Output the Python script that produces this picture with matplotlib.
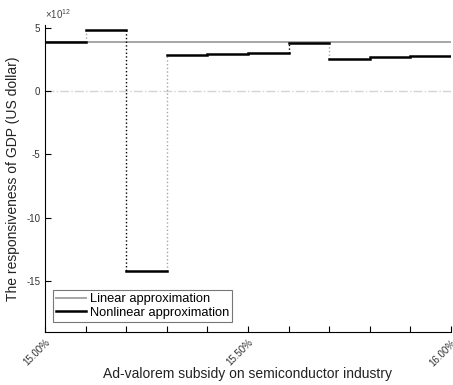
import numpy as np
import matplotlib
matplotlib.use("Agg")
import matplotlib.pyplot as plt
from matplotlib.ticker import FuncFormatter

# subsidy grid (percent) and the step values (US dollar)
subsidy_edges = [15.0, 15.1, 15.2, 15.3, 15.4, 15.5, 15.6, 15.7, 15.8, 15.9, 16.0]
nonlinear_vals = [3.88e12, 4.80e12, -14.2e12, 2.83e12, 2.90e12, 3.02e12,
                  3.76e12, 2.52e12, 2.65e12, 2.76e12]
linear_val = 3.88e12
tick_labels = {15.0: "15.00%", 15.5: "15.50%", 16.0: "16.00%"}
y_ticks = [-15e12, -10e12, -5e12, 0, 5e12]
scale = 1e12

plt.rcParams['font.family'] = ['Liberation Sans', 'DejaVu Sans']
plt.rcParams['mathtext.fontset'] = 'custom'
plt.rcParams['mathtext.rm'] = 'Liberation Sans'
plt.rcParams['axes.unicode_minus'] = False

fig = plt.figure(figsize=(4.53, 3.85), dpi=100)
ax = fig.add_axes([0.0993, 0.1377, 0.896, 0.797])

gray = "#a6a6a6"

# zero reference line
ax.axhline(0, color="#d4d4d4", linestyle="-.", linewidth=1.0, zorder=1)

# linear approximation
ax.plot([subsidy_edges[0], subsidy_edges[-1]], [linear_val, linear_val],
        color=gray, linewidth=1.4, zorder=2, label="Linear approximation")

# nonlinear steps
for i, v in enumerate(nonlinear_vals):
    ax.plot([subsidy_edges[i], subsidy_edges[i + 1]], [v, v], color="black",
            linewidth=1.8, zorder=3,
            label="Nonlinear approximation" if i == 0 else None)
    # dotted connector to the next step, alternating colours
    if i + 1 < len(nonlinear_vals):
        c = gray if i % 2 == 0 else "black"
        ax.plot([subsidy_edges[i + 1], subsidy_edges[i + 1]],
                [v, nonlinear_vals[i + 1]], color=c, linestyle=":",
                linewidth=1.0, zorder=2)

ax.set_xlim(15.0, 16.0)
ax.set_ylim(-19e12, 5.2e12)

ax.set_xticks(subsidy_edges)
ax.set_xticklabels([tick_labels.get(round(x, 2), "") for x in subsidy_edges],
                   rotation=45, ha="right", rotation_mode="anchor", fontsize=6.5)

ax.set_yticks(y_ticks)
ax.yaxis.set_major_formatter(FuncFormatter(lambda v, p: "%g" % (v / scale)))
ax.text(0.0, 1.012, r"$\times$10$^{12}$", transform=ax.transAxes,
        fontsize=7, color="#444444", ha="left", va="bottom")
ax.tick_params(axis="both", direction="in", length=4, width=0.8,
               labelsize=7, labelcolor="#333333")
ax.tick_params(axis="x", pad=4)

for s in ["top", "right"]:
    ax.spines[s].set_visible(False)
for s in ["left", "bottom"]:
    ax.spines[s].set_linewidth(0.8)

ax.set_xlabel("Ad-valorem subsidy on semiconductor industry", fontsize=10,
              color="#222222")
ax.set_ylabel("The responsiveness of GDP (US dollar)", fontsize=10,
              color="#222222")
ax.xaxis.set_label_coords(0.5, -0.115)
ax.yaxis.set_label_coords(-0.062, 0.5)

leg = ax.legend(loc="lower left", bbox_to_anchor=(0.01, 0.02), fontsize=9.3,
                frameon=True, fancybox=False, handlelength=2.3,
                handletextpad=0.3, borderpad=0.25, labelspacing=0.1,
                borderaxespad=0.3)
leg.get_frame().set_edgecolor("#555555")
leg.get_frame().set_linewidth(0.8)

fig.savefig("out.png", dpi=100)
